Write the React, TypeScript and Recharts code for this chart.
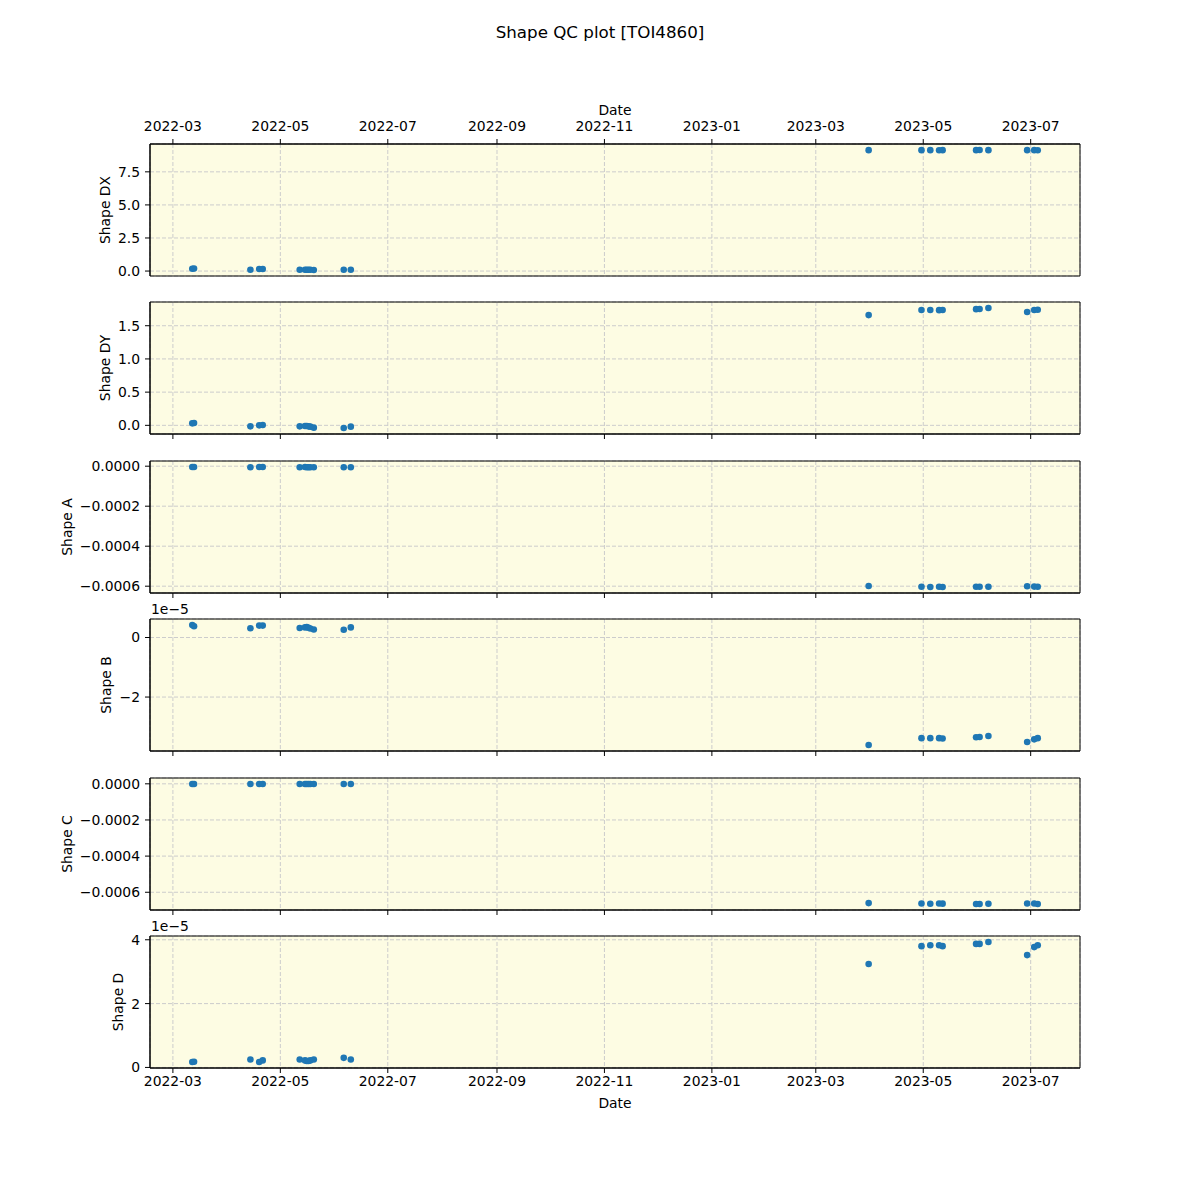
import React from "react";
import {
  ScatterChart,
  Scatter,
  XAxis,
  YAxis,
  CartesianGrid,
  ReferenceArea,
} from "recharts";

// observation dates (UTC)
const dates = [
  "2022-03-12", "2022-03-13", "2022-04-14", "2022-04-19", "2022-04-21",
  "2022-05-12", "2022-05-15", "2022-05-16", "2022-05-17", "2022-05-18",
  "2022-05-20", "2022-06-06", "2022-06-10",
  "2023-03-31", "2023-04-30", "2023-05-05", "2023-05-10", "2023-05-12",
  "2023-05-31", "2023-06-02", "2023-06-07", "2023-06-29", "2023-07-03",
  "2023-07-05",
];

const shapeDX = [
  0.18, 0.19, 0.1, 0.16, 0.15, 0.1, 0.1, 0.1, 0.1, 0.1, 0.08, 0.1, 0.1,
  9.14, 9.14, 9.14, 9.13, 9.14, 9.14, 9.15, 9.14, 9.14, 9.14, 9.13,
];
const shapeDY = [
  0.03, 0.035, -0.015, 0.0, 0.005, -0.015, -0.01, -0.01, -0.015, -0.02,
  -0.035, -0.04, -0.02,
  1.66, 1.737, 1.737, 1.735, 1.737, 1.75, 1.752, 1.767, 1.707, 1.737, 1.74,
];
const shapeA = [
  -4e-6, -4e-6, -5e-6, -4e-6, -4e-6, -5e-6, -4e-6, -5e-6, -5e-6, -5e-6,
  -5e-6, -5e-6, -5e-6,
  -5.99e-4, -6.03e-4, -6.04e-4, -6.03e-4, -6.04e-4, -6.03e-4, -6.03e-4,
  -6.03e-4, -6.0e-4, -6.02e-4, -6.03e-4,
];
const shapeB = [
  0.42e-5, 0.38e-5, 0.31e-5, 0.4e-5, 0.4e-5, 0.32e-5, 0.34e-5, 0.35e-5,
  0.33e-5, 0.3e-5, 0.27e-5, 0.26e-5, 0.34e-5,
  -3.61e-5, -3.38e-5, -3.38e-5, -3.38e-5, -3.39e-5, -3.35e-5, -3.34e-5,
  -3.31e-5, -3.51e-5, -3.42e-5, -3.38e-5,
];
const shapeC = [
  -1e-6, -1e-6, -1e-6, -1e-6, -1e-6, -1e-6, -1e-6, -1e-6, -1e-6, -1e-6,
  -1e-6, -1e-6, -1e-6,
  -6.6e-4, -6.62e-4, -6.64e-4, -6.62e-4, -6.63e-4, -6.65e-4, -6.65e-4,
  -6.64e-4, -6.62e-4, -6.62e-4, -6.65e-4,
];
const shapeD = [
  0.17e-5, 0.18e-5, 0.25e-5, 0.17e-5, 0.22e-5, 0.25e-5, 0.22e-5, 0.2e-5,
  0.2e-5, 0.22e-5, 0.25e-5, 0.3e-5, 0.25e-5,
  3.24e-5, 3.8e-5, 3.83e-5, 3.83e-5, 3.8e-5, 3.87e-5, 3.87e-5, 3.93e-5,
  3.52e-5, 3.77e-5, 3.83e-5,
];

const dateTicks = [
  "2022-03-01", "2022-05-01", "2022-07-01", "2022-09-01", "2022-11-01",
  "2023-01-01", "2023-03-01", "2023-05-01", "2023-07-01",
];
const dxTicks = [0, 2.5, 5, 7.5];
const dyTicks = [0, 0.5, 1, 1.5];
const aTicks = [0, -0.0002, -0.0004, -0.0006];
const bTicks = [0, -2e-5];
const cTicks = [0, -0.0002, -0.0004, -0.0006];
const dTicks = [0, 2e-5, 4e-5];

const toMs = (s: string) => Date.parse(s + "T00:00:00Z");
const times = dates.map(toMs);
const tickMs = dateTicks.map(toMs);

// matplotlib-style autoscale: 5% margin on each side
const pad = (vals: number[]): [number, number] => {
  const lo = Math.min(...vals);
  const hi = Math.max(...vals);
  const m = (hi - lo) * 0.05;
  return [lo - m, hi + m];
};
const xDomain = pad(times);

const minus = (s: string) => s.replace("-", "\u2212");
const fmtDate = (ms: number) => new Date(ms).toISOString().slice(0, 7);

const FONT = "'DejaVu Sans', sans-serif";
const FS = 13.9;
const BG = "#fdfce3";
const DOT = "#1f77b4";

const PLOT_TOP = 144;
const PANEL_H = 132;
const STEP = 158.4;

const panels = [
  { name: "Shape DX", values: shapeDX, ticks: dxTicks, fmt: (v: number) => minus(v.toFixed(1)), labelX: 105, offset: "" },
  { name: "Shape DY", values: shapeDY, ticks: dyTicks, fmt: (v: number) => minus(v.toFixed(1)), labelX: 105, offset: "" },
  { name: "Shape A", values: shapeA, ticks: aTicks, fmt: (v: number) => minus(v.toFixed(4)), labelX: 67, offset: "" },
  { name: "Shape B", values: shapeB, ticks: bTicks, fmt: (v: number) => minus((v / 1e-5).toFixed(0)), labelX: 106, offset: "1e\u22125" },
  { name: "Shape C", values: shapeC, ticks: cTicks, fmt: (v: number) => minus(v.toFixed(4)), labelX: 67, offset: "" },
  { name: "Shape D", values: shapeD, ticks: dTicks, fmt: (v: number) => minus((v / 1e-5).toFixed(0)), labelX: 118, offset: "1e\u22125" },
];

const Dot = (p: any) => <circle cx={p.cx} cy={p.cy} r={3.3} fill={DOT} />;

const Panel = ({ idx }: { idx: number }) => {
  const p = panels[idx];
  const top = PLOT_TOP + idx * STEP;
  const yDomain = pad(p.values);
  const data = times.map((t, j) => ({ t, v: p.values[j] }));
  const first = idx === 0;
  const last = idx === panels.length - 1;
  const tickStyle = { fill: "#000", fontSize: FS };
  return (
    <div style={{ position: "absolute", left: 0, top: top - 40 }}>
      <ScatterChart
        width={1200}
        height={PANEL_H + 80}
        margin={{ top: first ? 0 : 40, bottom: first ? 40 : 0, left: 0, right: 120 }}
      >
        <CartesianGrid stroke="#cccccc" strokeDasharray="4 2" fill={BG} fillOpacity={1} />
        <XAxis
          type="number"
          dataKey="t"
          domain={xDomain}
          ticks={tickMs}
          interval={0}
          orientation={first ? "top" : "bottom"}
          height={40}
          tickSize={5}
          tickMargin={first ? 8 : 3}
          tick={tickStyle}
          tickFormatter={first || last ? fmtDate : () => ""}
          axisLine={{ stroke: "#000" }}
          tickLine={{ stroke: "#000" }}
        />
        <YAxis
          type="number"
          dataKey="v"
          domain={yDomain}
          ticks={p.ticks}
          interval={0}
          width={150}
          tickSize={5}
          tickMargin={5}
          tick={tickStyle}
          tickFormatter={p.fmt}
          axisLine={{ stroke: "#000" }}
          tickLine={{ stroke: "#000" }}
        />
        <Scatter data={data} shape={Dot} isAnimationActive={false} />
        <ReferenceArea
          x1={xDomain[0]}
          x2={xDomain[1]}
          y1={yDomain[0]}
          y2={yDomain[1]}
          fill="none"
          stroke="#000"
          strokeWidth={1}
          ifOverflow="visible"
        />
      </ScatterChart>
      <div
        style={{
          position: "absolute",
          left: p.labelX,
          top: 40 + PANEL_H / 2,
          transform: "translate(-50%, -50%) rotate(-90deg)",
          fontSize: FS,
          whiteSpace: "nowrap",
        }}
      >
        {p.name}
      </div>
      {p.offset && (
        <div
          style={{
            position: "absolute",
            left: 151,
            top: 40 - 18,
            fontSize: FS,
            lineHeight: "16px",
          }}
        >
          {p.offset}
        </div>
      )}
    </div>
  );
};

const App = () => (
  <div
    style={{
      position: "absolute",
      left: 0,
      top: 0,
      width: 1200,
      height: 1200,
      background: "#fff",
      fontFamily: FONT,
      color: "#000",
    }}
  >
    <div
      style={{
        position: "absolute",
        left: 0,
        width: 1200,
        top: 22,
        textAlign: "center",
        fontSize: 16.7,
        lineHeight: "20px",
      }}
    >
      Shape QC plot [TOI4860]
    </div>
    <div style={{ position: "absolute", left: 515, width: 200, top: 101, textAlign: "center", fontSize: FS, lineHeight: "18px" }}>
      Date
    </div>
    {panels.map((_, i) => (
      <Panel key={i} idx={i} />
    ))}
    <div style={{ position: "absolute", left: 515, width: 200, top: 1094, textAlign: "center", fontSize: FS, lineHeight: "18px" }}>
      Date
    </div>
  </div>
);

export default App;
